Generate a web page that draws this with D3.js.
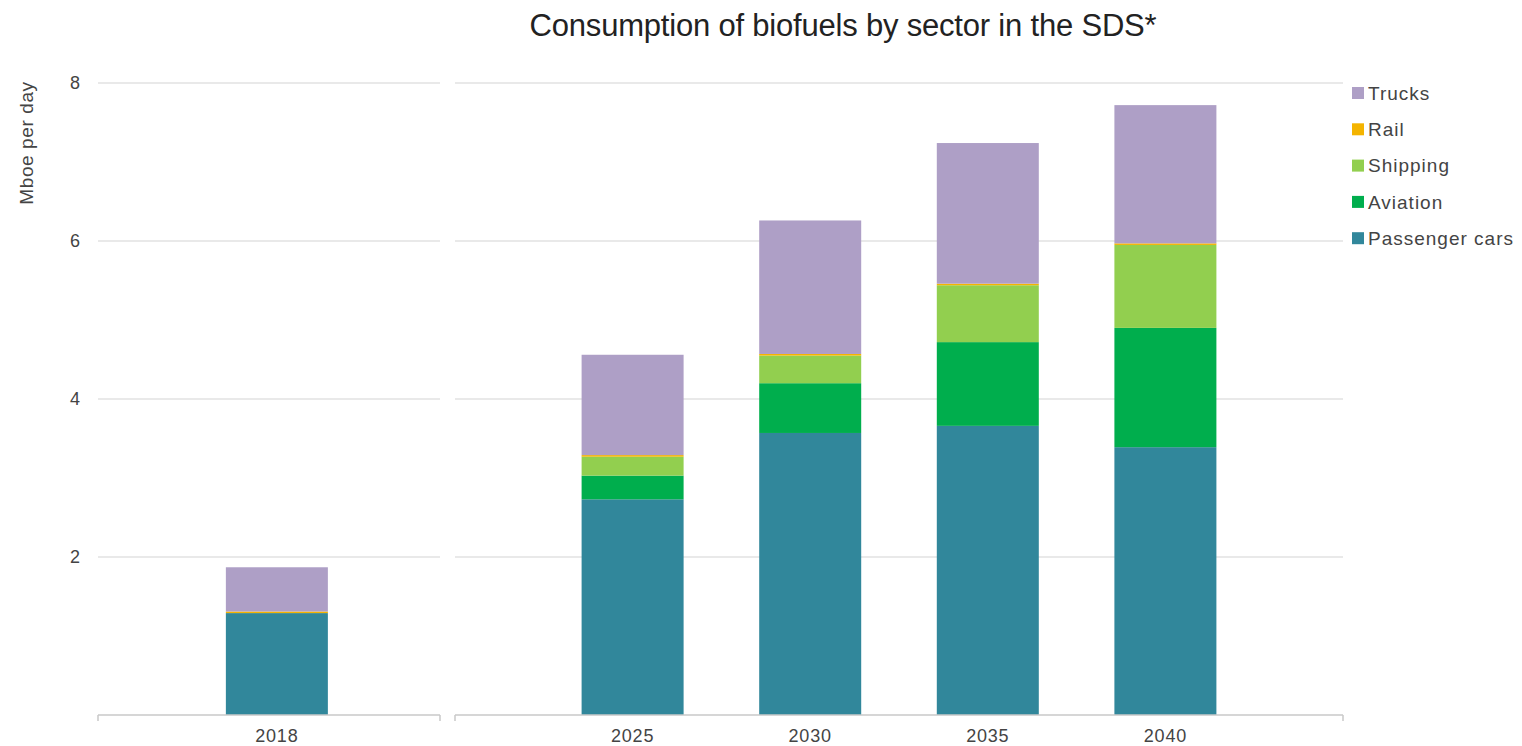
<!DOCTYPE html>
<html>
<head>
<meta charset="utf-8">
<script src="https://cdn.jsdelivr.net/npm/d3@7"></script>
<style>
  html, body { margin: 0; padding: 0; background: #fff; }
  svg { display: block; font-family: "Liberation Sans", Arial, sans-serif; }
</style>
</head>
<body>
<svg id="chart" width="1522" height="746"></svg>
<script>
// ---- data ----
const leftYears = ["2018"];
const rightYears = ["2025", "2030", "2035", "2040"];
const years = ["2018", "2025", "2030", "2035", "2040"];
const sectors = ["Passenger cars", "Aviation", "Shipping", "Rail", "Trucks"];
const passengerCars = [1.29, 2.73, 3.57, 3.66, 3.39];
const aviation      = [0.00, 0.30, 0.63, 1.06, 1.51];
const shipping      = [0.00, 0.24, 0.35, 0.72, 1.05];
const rail          = [0.02, 0.02, 0.02, 0.02, 0.02];
const trucks        = [0.56, 1.27, 1.69, 1.78, 1.75];
const yTicks = [2, 4, 6, 8];
const legendOrder = ["Trucks", "Rail", "Shipping", "Aviation", "Passenger cars"];
const colors = {
  "Passenger cars": "#31879b",
  "Aviation": "#00ae4d",
  "Shipping": "#92cf4f",
  "Rail": "#f4b400",
  "Trucks": "#ae9fc6"
};

const seriesValues = {
  "Passenger cars": passengerCars,
  "Aviation": aviation,
  "Shipping": shipping,
  "Rail": rail,
  "Trucks": trucks
};
const table = years.map((yr, i) => {
  const row = { year: yr };
  sectors.forEach(s => row[s] = seriesValues[s][i]);
  return row;
});
const stacked = d3.stack().keys(sectors)(table);

const svg = d3.select("#chart");

// scales
const y = d3.scaleLinear().domain([0, 8]).range([715, 83]);
const xLeft = d3.scalePoint().domain(leftYears).range([98, 440]).padding(0.5).align(0.523);
const xRight = d3.scalePoint().domain(rightYears).range([455, 1343]).padding(1);
const xPos = yr => leftYears.includes(yr) ? xLeft(yr) : xRight(yr);
const barW = 102;

const panels = [[98, 440], [455, 1343]];

// gridlines
panels.forEach(([a, b]) => {
  svg.append("g").selectAll("line").data(yTicks).join("line")
    .attr("x1", a).attr("x2", b)
    .attr("y1", d => y(d)).attr("y2", d => y(d))
    .attr("stroke", "#e2e2e2").attr("stroke-width", 1.3);
});

// y tick labels
svg.append("g").selectAll("text").data(yTicks).join("text")
  .attr("x", 80).attr("y", d => y(d))
  .attr("dy", "0.36em")
  .attr("text-anchor", "end")
  .attr("font-size", 18)
  .attr("fill", "#444")
  .text(d => d);

// bars
const layers = svg.append("g").selectAll("g").data(stacked).join("g")
  .attr("fill", d => colors[d.key]);
layers.selectAll("rect").data(d => d).join("rect")
  .attr("x", d => xPos(d.data.year) - barW / 2)
  .attr("width", barW)
  .attr("y", d => y(d[1]))
  .attr("height", d => Math.max(0, y(d[0]) - y(d[1])));

// x axes
panels.forEach(([a, b]) => {
  const g = svg.append("g").attr("stroke", "#c8c8c8").attr("stroke-width", 1.5);
  g.append("line").attr("x1", a).attr("x2", b).attr("y1", 715).attr("y2", 715);
  g.append("line").attr("x1", a).attr("x2", a).attr("y1", 715).attr("y2", 721);
  g.append("line").attr("x1", b).attr("x2", b).attr("y1", 715).attr("y2", 721);
});
svg.append("g").selectAll("text").data(years).join("text")
  .attr("x", d => xPos(d))
  .attr("y", 742)
  .attr("text-anchor", "middle")
  .attr("font-size", 18)
  .attr("letter-spacing", 0.8)
  .attr("fill", "#444")
  .text(d => d);

// title
svg.append("text")
  .attr("x", 843).attr("y", 36)
  .attr("text-anchor", "middle")
  .attr("font-size", 31)
  .attr("letter-spacing", -0.2)
  .attr("fill", "#222")
  .text("Consumption of biofuels by sector in the SDS*");

// y label
svg.append("text")
  .attr("transform", "translate(33,143) rotate(-90)")
  .attr("text-anchor", "middle")
  .attr("font-size", 19)
  .attr("letter-spacing", 0.6)
  .attr("fill", "#444")
  .text("Mboe per day");

// legend
const leg = svg.append("g").selectAll("g").data(legendOrder).join("g")
  .attr("transform", (d, i) => `translate(1352, ${93 + i * 36.3})`);
leg.append("rect").attr("x", 0).attr("y", -6).attr("width", 12).attr("height", 12)
  .attr("fill", d => colors[d]);
leg.append("text").attr("x", 16).attr("y", 0).attr("dy", "0.36em")
  .attr("font-size", 19).attr("letter-spacing", 1)
  .attr("fill", "#444")
  .text(d => d);
</script>
</body>
</html>
